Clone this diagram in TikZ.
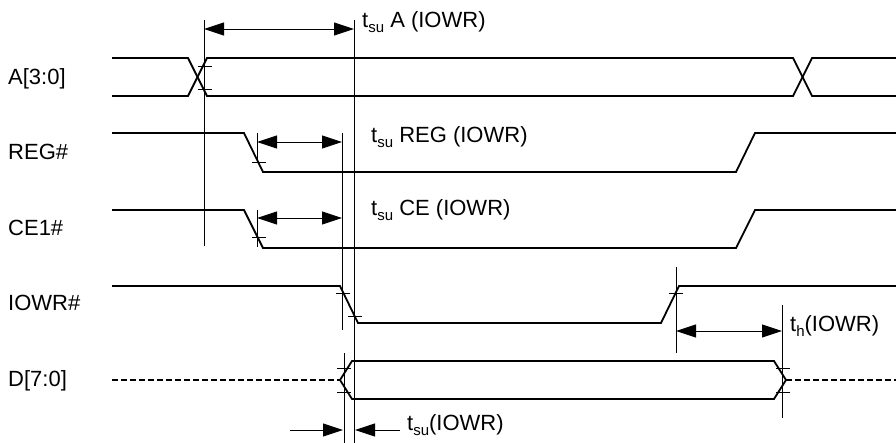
\documentclass[tikz,border=0pt]{standalone}
\usepackage{fontspec}
\setmainfont{Liberation Sans}
\usetikzlibrary{arrows.meta}

\newcommand{\lowsub}[1]{\raisebox{-5pt}{\fontsize{15}{15}\selectfont #1}}

\begin{document}
\begin{tikzpicture}[x=1pt,y=-1pt,
  sig/.style={line width=1.8pt},
  dsig/.style={sig,dash pattern=on 6pt off 3pt},
  ref/.style={line width=0.9pt},
  tip/.style={-{Triangle[length=20pt,width=13pt]}},
  dim/.style={ref,{Triangle[length=20pt,width=13pt]}-{Triangle[length=20pt,width=13pt]}},
  sig label/.style={anchor=base west,inner sep=0pt,font=\fontsize{22}{26}\selectfont}]
  \useasboundingbox (0,0) rectangle (896,443);

  \node[sig label] (lA) at (8,85) {A[3:0]};
  \node[sig label] (lREG) at (8,160) {REG\#};
  \node[sig label] (lCE) at (8,236) {CE1\#};
  \node[sig label] (lIOWR) at (8,311) {IOWR\#};
  \node[sig label] (lD) at (8,386) {D[7:0]};

  \draw[sig] (112,58) -- (188,58) -- (207,96) -- (793,96) -- (812,58) -- (896,58);
  \draw[sig] (112,96) -- (188,96) -- (207,58) -- (793,58) -- (812,96) -- (896,96);
  \draw[sig] (112,133) -- (244,133) -- (263,172) -- (736,172) -- (755,133) -- (896,133);
  \draw[sig] (112,210) -- (244,210) -- (263,248) -- (736,248) -- (755,210) -- (896,210);
  \draw[sig] (112,286) -- (340,286) -- (358,323) -- (661,323) -- (679,286) -- (896,286);
  \draw[dsig] (112,380) -- (340,380);
  \draw[sig] (340,380) -- (352,361) -- (774,361) -- (786,380) -- (774,399) -- (352,399) -- cycle;
  \draw[dsig] (786,380) -- (896,380);

  \draw[ref] (204,20) -- (204,246);
  \draw[ref] (354,20) -- (354,443);
  \draw[ref] (342,133) -- (342,330);
  \draw[ref] (344,353) -- (344,443);
  \draw[ref] (257,133) -- (257,163);
  \draw[ref] (257,210) -- (257,247);
  \draw[ref] (676,267) -- (676,353);
  \draw[ref] (782,305) -- (782,418);
  \foreach \x/\y in {198/66,198/89,252/162,252/237,336/293,348/316,669/293,
                     337/368,337/392,776/368,776/392}
    \draw[ref] (\x,\y) -- ++(14,0);

  \draw[dim] (204,29) -- (354,29);
  \draw[dim] (257,142) -- (342,142);
  \draw[dim] (257,218) -- (342,218);
  \draw[dim] (676,331) -- (782,331);
  \draw[ref,tip] (290,430) -- (343,430);
  \draw[ref,tip] (400,430) -- (355,430);

  \node[sig label] (tA) at (362,28) {t\lowsub{su} A (IOWR)};
  \node[sig label] (tREG) at (371,143) {t\lowsub{su} REG (IOWR)};
  \node[sig label] (tCE) at (371,216) {t\lowsub{su} CE (IOWR)};
  \node[sig label] (tH) at (790,331) {t\lowsub{h}(IOWR)};
  \node[sig label] (tSU) at (407,430) {t\lowsub{su}(IOWR)};
\end{tikzpicture}
\end{document}
